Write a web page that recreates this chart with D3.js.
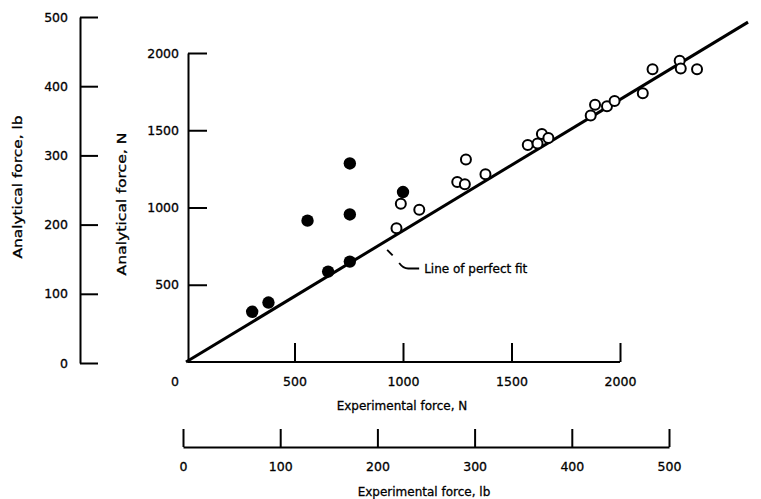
<!DOCTYPE html>
<html>
<head>
<meta charset="utf-8">
<script src="https://cdn.jsdelivr.net/npm/d3@7"></script>
<style>
  html, body { margin: 0; padding: 0; background: #fff; }
  svg { display: block; }
  text { font-family: "DejaVu Sans", "Liberation Sans", sans-serif; fill: #000; }
</style>
</head>
<body>
<svg id="chart" width="761" height="499"></svg>
<script>
// ---- data, forces in newtons ----
const filledExperimental = [305, 380, 560, 755, 755, 655, 755, 1000];
const filledAnalytical   = [325, 385, 915, 1285, 955, 585, 650, 1100];

const openExperimental = [970, 990, 1075, 1250, 1285, 1290, 1380, 1575, 1620, 1640, 1670,
                          1865, 1885, 1940, 1975, 2105, 2150, 2275, 2280, 2355];
const openAnalytical   = [865, 1025, 985, 1165, 1150, 1310, 1215, 1405, 1415, 1475, 1450,
                          1595, 1665, 1655, 1690, 1740, 1895, 1950, 1900, 1895];

// line of perfect fit (as drawn in the figure)
const fitExperimental = [0, 2590];
const fitAnalytical   = [0, 2200];

// tick labels
const newtonTicks = [500, 1000, 1500, 2000];
const poundTicks  = [0, 100, 200, 300, 400, 500];

const titleYlb = "Analytical force, lb";
const titleYN  = "Analytical force, N";
const titleXN  = "Experimental force, N";
const titleXlb = "Experimental force, lb";
const fitLabel = "Line of perfect fit";
const fitLabelAnchor = { x: 927, y: 725 };

// ---- scales ----
const svg = d3.select("#chart");
const x   = d3.scaleLinear().domain([0, 2000]).range([186, 620]);
const y   = d3.scaleLinear().domain([0, 2000]).range([362, 53]);
const xLb = d3.scaleLinear().domain([0, 500]).range([183, 669]);
const yLb = d3.scaleLinear().domain([0, 500]).range([363, 17]);

const yAxisX = 188;
const tickFont = 12.5;
const fmt = d3.format("d");

function styleAxis(g) {
  g.attr("font-family", null).attr("font-size", null);
  g.selectAll("path.domain").attr("stroke", "#000").attr("stroke-width", 2);
  g.selectAll(".tick line").attr("stroke", "#000").attr("stroke-width", 2);
  g.selectAll(".tick text")
    .style("font-family", '"DejaVu Sans", sans-serif')
    .style("font-size", tickFont + "px")
    .attr("fill", "#000").attr("stroke", "#000").attr("stroke-width", 0.3);
}

// left pound axis
svg.append("g").attr("transform", "translate(80,0)")
  .call(d3.axisLeft(yLb).tickValues(poundTicks).tickFormat(fmt).tickSizeInner(-18).tickSizeOuter(0).tickPadding(12))
  .call(styleAxis);

// newton y axis
svg.append("g").attr("transform", `translate(${yAxisX},0)`)
  .call(d3.axisLeft(y).tickValues(newtonTicks).tickFormat(fmt).tickSizeInner(-19).tickSizeOuter(0).tickPadding(9))
  .call(styleAxis);

// newton x axis
const gxN = svg.append("g").attr("transform", `translate(0,${y(0)})`)
  .call(d3.axisBottom(x).tickValues(newtonTicks).tickFormat(fmt).tickSizeInner(-19).tickSizeOuter(0).tickPadding(15))
  .call(styleAxis);
gxN.select("path.domain").remove();
gxN.append("line").attr("x1", yAxisX).attr("x2", x(2000)).attr("y1", 0).attr("y2", 0)
  .attr("stroke", "#000").attr("stroke-width", 2);
gxN.append("text").attr("x", x(0) - 11).attr("y", 15).attr("dy", "0.71em")
  .attr("text-anchor", "middle").style("font-size", tickFont + "px")
  .attr("stroke", "#000").attr("stroke-width", 0.3).text(fmt(0));

// pound x axis
svg.append("g").attr("transform", "translate(0,447)")
  .call(d3.axisBottom(xLb).tickValues(poundTicks).tickFormat(fmt).tickSizeInner(-18).tickSizeOuter(0).tickPadding(15))
  .call(styleAxis);

// axis titles
function title(sel) {
  return sel.style("font-size", "12px").attr("stroke", "#000").attr("stroke-width", 0.3);
}
svg.append("text").attr("transform", "translate(22,187) rotate(-90)")
  .attr("text-anchor", "middle").attr("textLength", 143).attr("lengthAdjust", "spacingAndGlyphs")
  .call(title).text(titleYlb);
svg.append("text").attr("transform", "translate(126,204) rotate(-90)")
  .attr("text-anchor", "middle").attr("textLength", 143).attr("lengthAdjust", "spacingAndGlyphs")
  .call(title).text(titleYN);
svg.append("text").attr("x", 402).attr("y", 410).attr("text-anchor", "middle")
  .call(title).text(titleXN);
svg.append("text").attr("x", 424).attr("y", 496).attr("text-anchor", "middle")
  .call(title).text(titleXlb);

// line of perfect fit
const fitData = fitExperimental.map((v, i) => [v, fitAnalytical[i]]);
svg.append("path").datum(fitData)
  .attr("d", d3.line().x(d => x(d[0])).y(d => y(d[1])))
  .attr("fill", "none").attr("stroke", "#000").attr("stroke-width", 3);

// leader + label
const ax = x(fitLabelAnchor.x), ay = y(fitLabelAnchor.y);
const leader = svg.append("g").attr("fill", "none").attr("stroke", "#000").attr("stroke-width", 1.8);
leader.append("path").attr("d", `M${ax},${ay} L${ax + 5.5},${ay + 5.5}`);
leader.append("path").attr("d", `M${ax + 12},${ay + 13} Q${ax + 16},${ay + 18.5} ${ax + 21},${ay + 18.5} L${ax + 32},${ay + 18.5}`);
svg.append("text").attr("x", ax + 37).attr("y", ay + 23)
  .call(title).text(fitLabel);

// data points
const filled = filledExperimental.map((v, i) => ({ x: v, y: filledAnalytical[i] }));
const open   = openExperimental.map((v, i) => ({ x: v, y: openAnalytical[i] }));

svg.append("g").selectAll("circle").data(open).join("circle")
  .attr("cx", d => x(d.x)).attr("cy", d => y(d.y)).attr("r", 5)
  .attr("fill", "#fff").attr("stroke", "#000").attr("stroke-width", 2);

svg.append("g").selectAll("circle").data(filled).join("circle")
  .attr("cx", d => x(d.x)).attr("cy", d => y(d.y)).attr("r", 6.2)
  .attr("fill", "#000");
</script>
</body>
</html>
